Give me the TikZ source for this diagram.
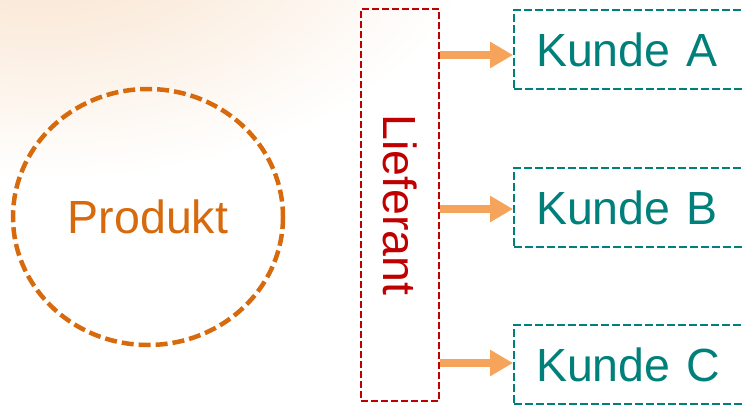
\documentclass[tikz,border=0pt]{standalone}
\usepackage{fontspec}
\setmainfont{Liberation Sans}
\usetikzlibrary{arrows.meta}
\definecolor{glow}{RGB}{248,224,200}
\definecolor{prodorange}{RGB}{214,106,12}
\definecolor{liefred}{RGB}{192,0,0}
\definecolor{kteal}{RGB}{0,128,122}
\definecolor{flow}{RGB}{246,163,92}
\tikzset{
  bigtext/.style={font=\fontsize{46.5}{50}\selectfont},
  prodring/.style={draw=prodorange, line width=4.5pt, dash pattern=on 12pt off 5pt},
  liefbox/.style={draw=liefred, line width=2.2pt, dash pattern=on 7pt off 3pt,
    minimum width=78pt, minimum height=392pt, inner sep=0pt},
  kbox/.style={draw=kteal, line width=2.2pt, dash pattern=on 8pt off 3pt,
    text=kteal, bigtext, text width=206pt, inner xsep=22pt, align=left,
    minimum height=79pt, anchor=north west},
  flowarrow/.style={draw=flow, line width=8pt,
    -{Triangle[length=23pt,width=25pt]}},
}
\begin{document}
\begin{tikzpicture}[x=1pt,y=-1pt]
  \clip (0,0) rectangle (743,404);
  % soft warm glow in the upper left corner
  \shade[inner color=glow, outer color=white] (40,-80) ellipse [x radius=440, y radius=260];

  % product
  \draw[prodring] (148,217) ellipse [x radius=135, y radius=128];
  \node[text=prodorange, bigtext, inner sep=0pt] (prod) at (148,217) {Produkt};

  % supplier
  \node[liefbox] (lief) at (400,205) {};
  \node[text=liefred, bigtext, rotate=-90, inner sep=0pt] (lieftext) at (lief.center) {Lieferant};

  % customers
  \node[kbox] (ka) at (513,9)   {Kunde A};
  \node[kbox] (kb) at (513,167) {Kunde B};
  \node[kbox] (kc) at (513,324) {Kunde C};

  % deliveries
  \draw[flowarrow] (lief.east |- 0,55) -- (ka.west |- 0,55);
  \draw[flowarrow] (lief.east |- 0,209) -- (kb.west |- 0,209);
  \draw[flowarrow] (lief.east |- 0,363) -- (kc.west |- 0,363);
\end{tikzpicture}
\end{document}
